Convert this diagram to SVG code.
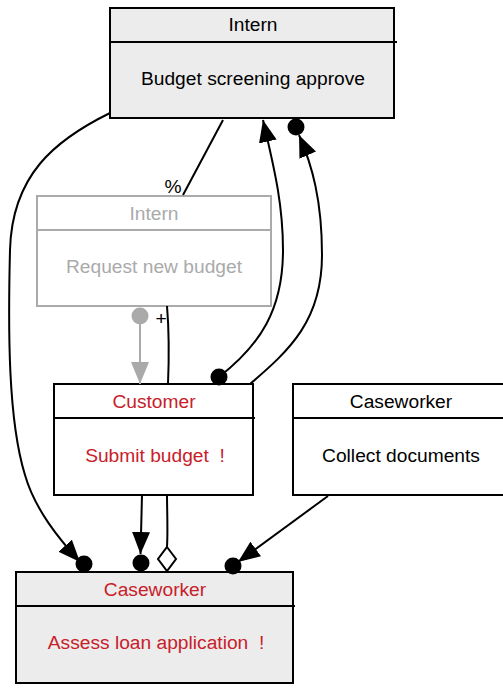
<svg xmlns="http://www.w3.org/2000/svg" width="503" height="689" viewBox="0 0 503 689">
<style>
  text { font-family: "Liberation Sans", Arial, sans-serif; font-size: 19.2px; text-anchor: middle; fill: #000; }
  .box { stroke: #000; stroke-width: 2; }
  .fill { fill: #ececec; }
  .white { fill: #fff; }
  .sep { stroke: #000; stroke-width: 2; }
  .red { fill: #c8202a; }
  .gbox { fill: #fff; stroke: #aaa; stroke-width: 2; }
  .gsep { stroke: #aaa; stroke-width: 2; }
  .gtext { fill: #aaa; }
  .edge { fill: none; stroke: #000; stroke-width: 2; }
  .gedge { fill: none; stroke: #aaa; stroke-width: 2; }
  .dot { fill: #000; }
  .gdot { fill: #aaa; }
  .diamond { fill: #fff; stroke: #000; stroke-width: 2; }
</style>
<defs>
  <marker id="arrow" markerUnits="userSpaceOnUse" markerWidth="22" markerHeight="18" refX="22" refY="9" orient="auto">
    <path d="M0,0 L22,9 L0,18 z" fill="#000"/>
  </marker>
  <marker id="garrow" markerUnits="userSpaceOnUse" markerWidth="22" markerHeight="18" refX="22" refY="9" orient="auto">
    <path d="M0,0 L22,9 L0,18 z" fill="#aaa"/>
  </marker>
</defs>

<g id="intern-top">
  <rect class="box fill" x="110" y="8" width="284" height="110"/>
  <line class="sep" x1="110" y1="42" x2="397" y2="42"/>
  <text x="253" y="31">Intern</text>
  <text x="253" y="85">Budget screening approve</text>
</g>

<g id="intern-request">
  <rect class="gbox" x="37" y="196" width="234" height="110"/>
  <line class="gsep" x1="37" y1="230" x2="271" y2="230"/>
  <text class="gtext" x="154" y="220">Intern</text>
  <text class="gtext" x="154" y="273">Request new budget</text>
</g>

<g id="customer">
  <rect class="box white" x="54" y="384" width="199" height="111"/>
  <line class="sep" x1="54" y1="418" x2="255" y2="418"/>
  <text class="red" x="154" y="408">Customer</text>
  <text class="red" x="155" y="462" xml:space="preserve">Submit budget  !</text>
</g>

<g id="caseworker-collect">
  <rect class="box white" x="293" y="384" width="217" height="111"/>
  <line class="sep" x1="293" y1="418" x2="510" y2="418"/>
  <text x="401" y="408">Caseworker</text>
  <text x="401" y="462">Collect documents</text>
</g>

<g id="caseworker-assess">
  <rect class="box fill" x="16" y="572" width="277" height="111"/>
  <line class="sep" x1="16" y1="606" x2="295" y2="606"/>
  <text class="red" x="155" y="596">Caseworker</text>
  <text class="red" x="156" y="649" xml:space="preserve">Assess loan application  !</text>
</g>

<g id="connectors">
  <path class="edge" d="M110,113 C55,140 12,175 10,250 C8,330 8,420 25,475 C35,510 60,540 80,562" marker-end="url(#arrow)"/>
  <circle class="dot" cx="84" cy="564" r="8.5"/>

  <path class="edge" d="M223,120 L183,195"/>
  <text x="173" y="193">%</text>

  <circle class="gdot" cx="140" cy="316" r="8.5"/>
  <path class="gedge" d="M140,316 L140,384" marker-end="url(#garrow)"/>

  <path class="edge" d="M167,306 C169,330 169,360 168,384"/>
  <text x="161" y="325">+</text>

  <circle class="dot" cx="219" cy="377" r="8.5"/>
  <path class="edge" d="M219,377 C260,345 283,310 283,250 C283,200 272,160 263,120" marker-end="url(#arrow)"/>

  <path class="edge" d="M250,384 C290,350 322,320 322,255 C322,200 312,165 299,135" marker-end="url(#arrow)"/>
  <circle class="dot" cx="296" cy="127" r="8.5"/>

  <path class="edge" d="M142,495 L140.5,554" marker-end="url(#arrow)"/>
  <circle class="dot" cx="141" cy="563" r="8.5"/>

  <path class="edge" d="M167,495 C167,510 168,530 167,547"/>
  <polygon class="diamond" points="167,547 176,559 167,571 158,559"/>

  <path class="edge" d="M328,496 L238,562" marker-end="url(#arrow)"/>
  <circle class="dot" cx="233" cy="566" r="8.5"/>
</g>
</svg>
